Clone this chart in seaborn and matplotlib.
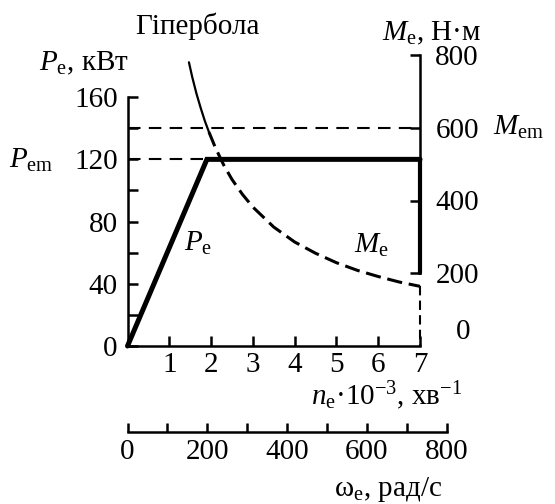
import matplotlib
matplotlib.use("Agg")
import matplotlib.pyplot as plt
import seaborn as sns
import pandas as pd

sns.set_theme(style="white")
plt.rcParams['font.family'] = ['Liberation Serif', 'DejaVu Serif']
plt.rcParams['mathtext.fontset'] = 'custom'
plt.rcParams['mathtext.rm'] = 'Liberation Serif'
plt.rcParams['mathtext.it'] = 'Liberation Serif:italic'
plt.rcParams['mathtext.bf'] = 'Liberation Serif:bold'

# ---- data -------------------------------------------------------------
# engine speed n_e·10^-3, 1/min and power P_e, kW
n_power = [0.0, 1.9, 7.0]
p_power = [0.0, 120.0, 120.0]
p_em = 120.0          # maximum power, kW
n_pem = 1.9           # speed where P_em is first reached
m_em = 600.0          # maximum torque, N·m
m_cut = 200.0         # torque level where the limit line at n = 7 ends
n_max = 7.0

# constant-power hyperbola M_e(n)
n_hyp = [1.47, 1.55, 1.65, 1.75, 1.85, 1.95, 2.1, 2.3, 2.5, 2.75, 3.0,
         3.5, 4.0, 4.5, 5.0, 5.5, 6.0, 6.5, 7.0]
m_hyp = [780, 739, 694, 655, 619, 588, 546, 498, 458, 417, 382,
         327, 286, 255, 229, 208, 191, 176, 164]
n_solid_end = 1.95    # hyperbola drawn solid up to this speed

p_major = [0, 40, 80, 120, 160]
p_minor = [20, 60, 100, 140]
m_ticks = [200, 400, 600, 800]
n_ticks = [1, 2, 3, 4, 5, 6, 7]
w_major = [0, 200, 400, 600, 800]
w_minor = [100, 300, 500, 700]

P_TOP = 187.1         # power at the top of the frame (aligned with 800 N·m)
M_TOP = 800.0
W_PER_N = 104.72      # rad/s per 1000 1/min

# ---- figure -----------------------------------------------------------
W, H = 555, 504
fig = plt.figure(figsize=(W / 100, H / 100), dpi=100)
fig.patch.set_facecolor('white')

def px(x, y):
    return x / W, 1 - y / H

x0, x1 = 127.5, 420.0
y0, y1 = 346.0, 55.0
ax = fig.add_axes([x0 / W, 1 - y0 / H, (x1 - x0) / W, (y0 - y1) / H])
ax.set_facecolor('none')
ax.set_xlim(0, n_max)
ax.set_ylim(0, P_TOP)

axm = ax.twinx()
axm.set_ylim(0, M_TOP)

FS = 21
black = 'black'
lw_spine = 1.8
thick = 3.6
thin_dash = (0, (6, 4))

# power characteristic
df_p = pd.DataFrame({'n': n_power, 'P': p_power})
sns.lineplot(data=df_p, x='n', y='P', ax=ax, color=black, lw=thick,
             sort=False, estimator=None, clip_on=False,
             solid_capstyle='round', solid_joinstyle='miter')
# P_em dashed guide
sns.lineplot(x=[0, n_pem], y=[p_em, p_em], ax=ax, color=black, lw=1.5,
             linestyle=thin_dash, sort=False, estimator=None, clip_on=False)
# vertical limit line at n = 7
p_cut = m_cut * P_TOP / M_TOP
sns.lineplot(x=[n_max, n_max], y=[p_em, p_cut], ax=ax, color=black, lw=3.0,
             sort=False, estimator=None, clip_on=False)

# M_em dashed guide
sns.lineplot(x=[0, n_max], y=[m_em, m_em], ax=axm, color=black, lw=1.5,
             linestyle=thin_dash, sort=False, estimator=None, clip_on=False)

# hyperbola: solid part then dashed part
df_h = pd.DataFrame({'n': n_hyp, 'M': m_hyp})
solid = df_h[df_h['n'] <= n_solid_end]
dashed = df_h[df_h['n'] >= n_solid_end]
sns.lineplot(data=solid, x='n', y='M', ax=axm, color=black, lw=1.6,
             sort=False, estimator=None, clip_on=False)
sns.lineplot(data=dashed, x='n', y='M', ax=axm, color=black, lw=2.2,
             linestyle=(0, (5, 2.2)), sort=False, estimator=None,
             clip_on=False)
# dashed drop from the hyperbola end to zero
sns.lineplot(x=[n_max, n_max], y=[m_hyp[-1], 0], ax=axm, color=black,
             lw=1.5, linestyle=(0, (4.5, 2.5)), sort=False, estimator=None,
             clip_on=False)

for a in (ax, axm):
    a.set_xlabel('')
    a.set_ylabel('')
    a.grid(False)

# spines
for s in ('top', 'right'):
    ax.spines[s].set_visible(False)
for s in ('top', 'left', 'bottom'):
    axm.spines[s].set_visible(False)
ax.spines['left'].set_bounds(0, 160)
ax.spines['bottom'].set_bounds(0, n_max)
axm.spines['right'].set_bounds(200, 800)
for sp in (ax.spines['left'], ax.spines['bottom'], axm.spines['right']):
    sp.set_color(black)
    sp.set_linewidth(lw_spine)

# ticks
ax.set_xticks(n_ticks)
ax.set_xticklabels([str(v) for v in n_ticks])
ax.set_yticks(p_major)
ax.set_yticklabels([str(v) for v in p_major])
ax.set_yticks(p_minor, minor=True)
ax.tick_params(axis='both', which='both', direction='in', length=7,
               width=lw_spine, color=black, labelsize=FS, labelcolor=black)
ax.tick_params(axis='y', which='both', left=True, pad=7)
ax.tick_params(axis='x', which='both', bottom=True, pad=4)

axm.set_yticks(m_ticks)
axm.set_yticklabels([str(v) for v in m_ticks])
axm.tick_params(axis='y', which='both', direction='in', length=7,
                width=lw_spine, color=black, labelsize=FS, labelcolor=black,
                right=True, pad=11)

# angular-speed scale below
w_span = n_max * W_PER_N
wx_len = (x1 - x0) * M_TOP / w_span
yw = 432.0
axw = fig.add_axes([x0 / W, 1 - yw / H, wx_len / W, 0.0005])
axw.set_facecolor('none')
axw.set_xlim(0, 800)
axw.set_ylim(0, 1)
for s in ('top', 'left', 'right'):
    axw.spines[s].set_visible(False)
axw.spines['bottom'].set_linewidth(lw_spine)
axw.spines['bottom'].set_color(black)
axw.set_yticks([])
axw.set_xticks(w_major)
axw.set_xticklabels([str(v) for v in w_major])
axw.set_xticks(w_minor, minor=True)
axw.tick_params(axis='x', which='both', direction='in', length=6.5,
                width=lw_spine, color=black, labelsize=FS, labelcolor=black,
                bottom=True, pad=5)
axw.grid(False)

# labels
def label(x, y, s, ha='center', va='center'):
    fig.text(*px(x, y), s, fontsize=FS, ha=ha, va=va, color=black)

label(197, 26, 'Гіпербола')
label(84, 63, r'$P_{\mathrm{e}}$, кВт')
label(432, 33, r'$M_{\mathrm{e}}$, Н·м')
label(31, 160, r'$P_{\mathrm{em}}$')
label(493, 127, r'$M_{\mathrm{em}}$', ha='left')
label(198, 243, r'$P_{\mathrm{e}}$')
label(371, 245, r'$M_{\mathrm{e}}$')
label(463, 332, '0')
label(462, 405, r'$n_{\mathrm{e}}$·10$^{-3}$, хв$^{-1}$', ha='right',
      va='baseline')
label(388, 490, r'ω$_{\mathrm{e}}$, рад/с')

fig.savefig('out.png', dpi=100, facecolor='white')
